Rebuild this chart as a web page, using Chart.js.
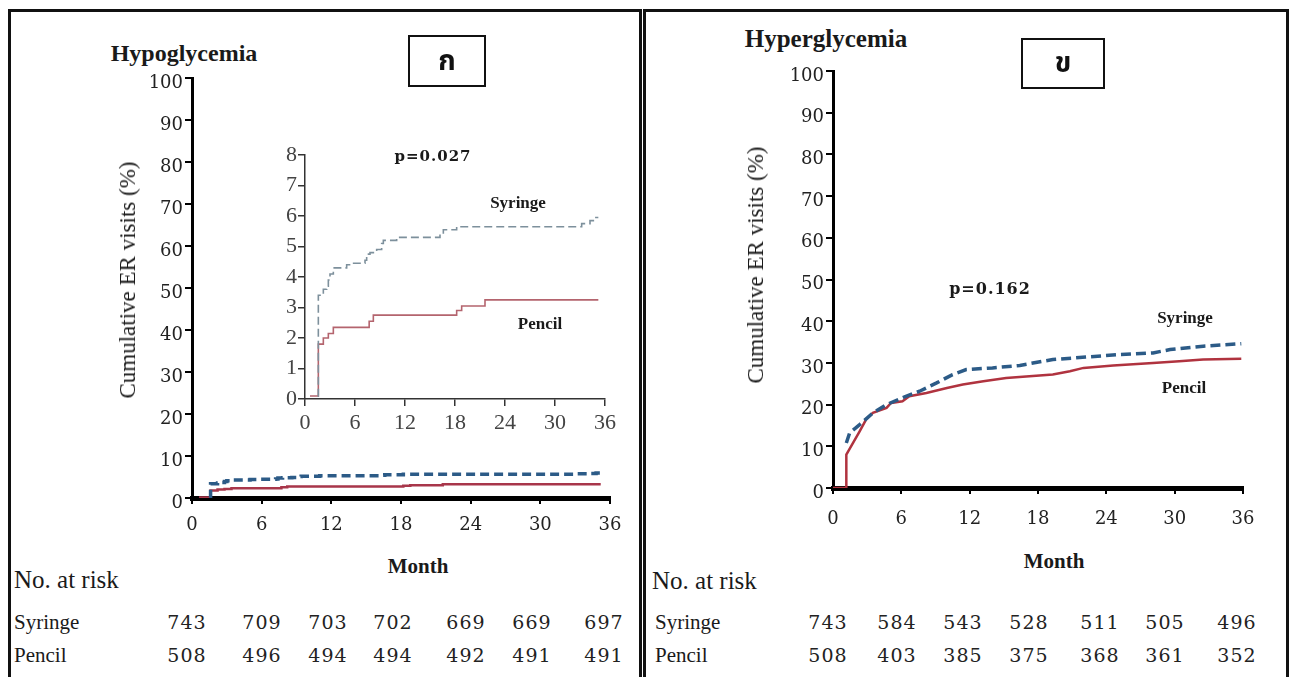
<!DOCTYPE html>
<html>
<head>
<meta charset="utf-8">
<script src="https://cdn.jsdelivr.net/npm/chart.js@4.4.1/dist/chart.umd.min.js"></script>
<style>
  html, body { margin: 0; padding: 0; background: #fff; }
  body { width: 1292px; height: 677px; position: relative; overflow: hidden; }
  canvas { position: absolute; }
  .panel { position: absolute; box-sizing: border-box; border: 3px solid #111; border-bottom: none; height: 720px; }
  .t { position: absolute; white-space: nowrap; color: #1a1a1a; transform: translate(-50%, -50%); }
  .tl { position: absolute; white-space: nowrap; color: #1a1a1a; transform: translate(0, -50%); }
  .times { font-family: "Liberation Serif", "Times New Roman", serif; }
  .num { font-family: "DejaVu Serif", serif; font-size: 19px; letter-spacing: 1px; color: #222; }
  .pval { font-family: "DejaVu Serif", serif; font-weight: bold; letter-spacing: 1px; }
  .box { position: absolute; box-sizing: border-box; border: 2.5px solid #111; display: flex; align-items: center; justify-content: center;
         font-family: "Noto Sans Thai", "Noto Sans", "DejaVu Sans", sans-serif; font-weight: bold; font-size: 28px; color: #111; }
  .ytitle { position: absolute; white-space: nowrap; transform: translate(-50%, -50%) rotate(-90deg); font-size: 23px; color: #1a1a1a; }
</style>
</head>
<body>
<div class="panel" style="left:8px; top:9px; width:634px;"></div>
<div class="panel" style="left:643px; top:9px; width:646px;"></div>

<canvas id="hypoMain" width="508" height="475" style="left:122px; top:68px;"></canvas>
<canvas id="hypoInset" width="350" height="289" style="left:275px; top:145px;"></canvas>
<canvas id="hyperMain" width="500" height="472" style="left:763px; top:61px;"></canvas>

<div id="labels"></div>

<script>
// Hypoglycemia: cumulative ER visits (%) by month
const hypoSyringeMonths = [1.5, 1.6, 2.2, 2.6, 2.8, 3.0, 3.4, 5.0, 5.6, 7.2, 7.4, 7.8, 8.6, 9.2, 9.4, 11.0, 16.2, 16.6, 18.2, 33.2, 34.2, 34.8, 35.2]
const hypoSyringeValues = [0.1, 3.4, 3.6, 3.7, 3.9, 4.1, 4.3, 4.4, 4.45, 4.55, 4.75, 4.8, 4.9, 5.1, 5.2, 5.3, 5.4, 5.55, 5.65, 5.75, 5.85, 5.95, 5.95]
const hypoPencilMonths = [0.6, 1.6, 2.2, 2.8, 3.4, 7.7, 8.2, 18.2, 18.8, 21.6, 35.2]
const hypoPencilValues = [0.1, 1.8, 2.0, 2.15, 2.35, 2.55, 2.75, 2.9, 3.05, 3.25, 3.25]

// Hyperglycemia: cumulative ER visits (%) by month
const hyperSyringeMonths = [1.17, 1.46, 2.34, 3.5, 4.7, 6.4, 7.6, 9.1, 10.5, 11.7, 14.0, 16.4, 19.3, 22.2, 25.2, 28.1, 29.6, 32.5, 35.85]
const hyperSyringeValues = [10.8, 13.2, 15.2, 18, 20, 22, 23.2, 25.2, 27.2, 28.4, 28.8, 29.4, 30.8, 31.4, 32, 32.4, 33.2, 34, 34.6]
const hyperPencilMonths = [0, 1.17, 1.17, 1.76, 2.34, 2.9, 3.5, 4.7, 5.1, 6.1, 6.7, 8.2, 10.0, 11.4, 13.2, 15.2, 19.3, 20.8, 22.0, 24.6, 28.1, 30.4, 32.5, 35.85]
const hyperPencilValues = [0, 0, 8, 10.8, 13.6, 16.4, 18, 19.2, 20.4, 20.8, 22, 22.8, 24, 24.8, 25.6, 26.4, 27.2, 28, 28.8, 29.4, 30, 30.4, 30.8, 31]

// Number at risk (months 0, 6, 12, ... 36)
const riskMonths = [0, 6, 12, 18, 24, 30, 36]
const hypoRiskSyringe = [743, 709, 703, 702, 669, 669, 697]
const hypoRiskPencil = [508, 496, 494, 494, 492, 491, 491]
const hyperRiskSyringe = [743, 584, 543, 528, 511, 505, 496]
const hyperRiskPencil = [508, 403, 385, 375, 368, 361, 352]

const toPoints = (xs, ys) => xs.map((x, i) => ({ x, y: ys[i] }))

function lineSet(label, xs, ys, color, width, dash, stepped) {
    return {
        label, data: toPoints(xs, ys), showLine: true, borderColor: color, backgroundColor: color,
        borderWidth: width, borderDash: dash, pointRadius: 0, stepped: stepped, tension: 0
    }
}

// fixed axis sizes so the plot area lands where the reference has it
function mainScales(yMax, yStep, xPad) {
    const tickFont = { family: 'DejaVu Serif', size: 18 }
    return {
        x: {
            type: 'linear', min: 0, max: 36,
            ticks: { stepSize: 6, font: tickFont, color: '#222', padding: xPad, maxRotation: 0, autoSkip: false },
            grid: { drawOnChartArea: false, drawTicks: true, tickLength: 6, color: '#000', lineWidth: 2 },
            border: { display: true, color: '#000', width: 5 },
            afterFit(s) { s.height = 45; s.paddingLeft = 0; s.paddingRight = 0 }
        },
        y: {
            min: 0, max: yMax,
            ticks: { stepSize: yStep, font: tickFont, color: '#222', padding: 2, labelOffset: 5, autoSkip: false },
            grid: { drawOnChartArea: false, drawTicks: true, tickLength: 7, color: '#000', lineWidth: 2 },
            border: { display: true, color: '#000', width: 3 },
            afterFit(s) { s.width = 70; s.paddingTop = 0; s.paddingBottom = 0 }
        }
    }
}

const baseOptions = (scales) => ({
    responsive: false, animation: false, devicePixelRatio: 1,
    layout: { padding: { top: 10, right: 20, bottom: 0, left: 0 } },
    plugins: { legend: { display: false }, tooltip: { enabled: false } },
    scales
})

new Chart(document.getElementById('hypoMain'), {
    type: 'scatter',
    data: {
        datasets: [
            lineSet('Syringe', hypoSyringeMonths, hypoSyringeValues, '#2c5b87', 3.5, [9, 5], 'before'),
            lineSet('Pencil', hypoPencilMonths, hypoPencilValues, '#a8364a', 2.5, [], 'before')
        ]
    },
    options: baseOptions(mainScales(100, 10, 11))
})

new Chart(document.getElementById('hyperMain'), {
    type: 'scatter',
    data: {
        datasets: [
            lineSet('Syringe', hyperSyringeMonths, hyperSyringeValues, '#2c5b87', 3.5, [10, 5], false),
            lineSet('Pencil', hyperPencilMonths, hyperPencilValues, '#b0333f', 2.5, [], false)
        ]
    },
    options: baseOptions(mainScales(100, 10, 15))
})

// inset with zoomed y range
const insetFont = { family: 'Liberation Sans Narrow', size: 22 }
new Chart(document.getElementById('hypoInset'), {
    type: 'scatter',
    data: {
        datasets: [
            lineSet('Syringe', hypoSyringeMonths, hypoSyringeValues, '#7d909c', 1.6, [8, 4], 'before'),
            lineSet('Pencil', hypoPencilMonths, hypoPencilValues, '#b4646e', 1.6, [], 'before')
        ]
    },
    options: baseOptions({
        x: {
            type: 'linear', min: 0, max: 36,
            ticks: { stepSize: 6, font: insetFont, color: '#444', padding: 4, maxRotation: 0, autoSkip: false },
            grid: { drawOnChartArea: false, drawTicks: true, tickLength: 7, color: '#333', lineWidth: 1.5 },
            border: { display: true, color: '#333', width: 1.5 },
            afterFit(s) { s.height = 35; s.paddingLeft = 0; s.paddingRight = 0 }
        },
        y: {
            min: 0, max: 8,
            ticks: { stepSize: 1, font: insetFont, color: '#444', padding: 1, autoSkip: false },
            grid: { drawOnChartArea: false, drawTicks: true, tickLength: 7, color: '#333', lineWidth: 1.5 },
            border: { display: true, color: '#333', width: 1.5 },
            afterFit(s) { s.width = 30; s.paddingTop = 0; s.paddingBottom = 0 }
        }
    })
})

// text around the plots
const labels = document.getElementById('labels')
function addText(cls, text, x, y, style) {
    const d = document.createElement('div')
    d.className = cls
    d.textContent = text
    d.style.left = x + 'px'
    d.style.top = y + 'px'
    Object.assign(d.style, style || {})
    labels.appendChild(d)
    return d
}

function panelText(p) {
    addText('t times', p.title, p.titleX, p.titleY, { fontWeight: 'bold', fontSize: p.titleSize + 'px' })
    addText('box', p.letter, p.box[0], p.box[1], { width: p.box[2] + 'px', height: p.box[3] + 'px' })
    addText('ytitle times', 'Cumulative ER visits (%)', p.yTitle[0], p.yTitle[1])
    addText('t pval', p.pval, p.pPos[0], p.pPos[1], { fontSize: p.pSize + 'px' })
    addText('t times', 'Syringe', p.syr[0], p.syr[1], { fontWeight: 'bold', fontSize: '17px' })
    addText('t times', 'Pencil', p.pen[0], p.pen[1], { fontWeight: 'bold', fontSize: '17px' })
    addText('t times', 'Month', p.month[0], p.month[1], { fontWeight: 'bold', fontSize: '21px' })
    addText('tl times', 'No. at risk', p.noRisk[0], p.noRisk[1], { fontSize: '25px' })
    addText('tl times', 'Syringe', p.rowX, 622, { fontSize: '21px' })
    addText('tl times', 'Pencil', p.rowX, 655, { fontSize: '21px' })
    riskMonths.forEach((m, i) => {
        addText('t num', String(p.riskS[i]), p.cols[i], 622)
        addText('t num', String(p.riskP[i]), p.cols[i], 655)
    })
}

panelText({
    title: 'Hypoglycemia', titleX: 184, titleY: 53, titleSize: 24, letter: 'ก', box: [408, 35, 78, 52],
    yTitle: [128, 280], pval: 'p=0.027', pPos: [433, 156], pSize: 15,
    syr: [518, 203], pen: [540, 324], month: [418, 566], noRisk: [14, 580], rowX: 14,
    riskS: hypoRiskSyringe, riskP: hypoRiskPencil, cols: [187, 262, 328, 393, 466, 532, 604]
})
panelText({
    title: 'Hyperglycemia', titleX: 826, titleY: 39, titleSize: 25, letter: 'ข', box: [1021, 38, 84, 51],
    yTitle: [756, 265], pval: 'p=0.162', pPos: [990, 288], pSize: 16,
    syr: [1185, 318], pen: [1184, 388], month: [1054, 561], noRisk: [652, 581], rowX: 655,
    riskS: hyperRiskSyringe, riskP: hyperRiskPencil, cols: [828, 897, 963, 1029, 1100, 1165, 1237]
})
</script>
</body>
</html>
